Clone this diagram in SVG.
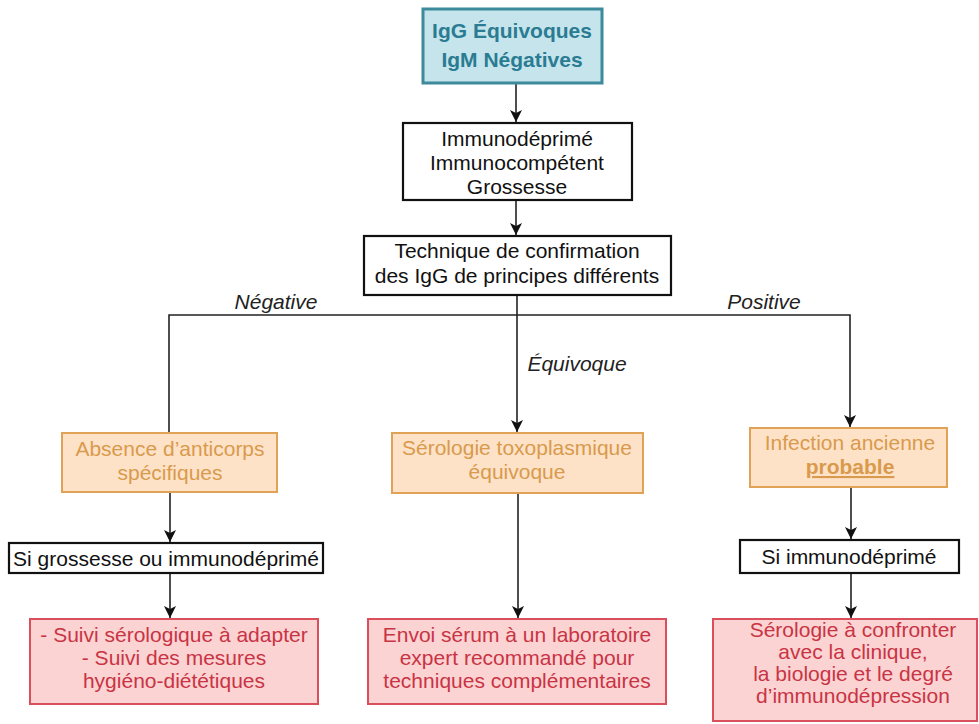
<svg xmlns="http://www.w3.org/2000/svg" width="979" height="724" viewBox="0 0 979 724">
<defs>
<marker id="ah" viewBox="0 0 12 18" refX="12" refY="9" markerWidth="12" markerHeight="18" markerUnits="userSpaceOnUse" orient="auto">
<path d="M0,3 L12,9 L0,15 L3,9 Z" fill="#111"/>
</marker>
</defs>
<style>
text{font-family:"Liberation Sans",Arial,sans-serif;text-anchor:middle}
.teal rect{fill:#c6e4eb;stroke:#3c8a9b;stroke-width:3}
.teal text{fill:#2a7c93;font-weight:bold;font-size:21px}
.blk rect{fill:#fff;stroke:#111;stroke-width:2.2}
.blk text{fill:#111;font-size:21px}
.org rect{fill:#fde2c8;stroke:#e0a256;stroke-width:2}
.org text{fill:#d99a4c;font-size:21px}
.red rect{fill:#fbd3d2;stroke:#d9505c;stroke-width:2}
.red text{fill:#c93445;font-size:21px}
.lbl{fill:#222;font-size:21px;font-style:italic}
.c path{fill:none;stroke:#222;stroke-width:1.6}
</style>
<rect width="979" height="724" fill="#fff"/>
<g id="connectors" class="c">
<path d="M516,83 V122" marker-end="url(#ah)"/>
<path d="M516,200 V235" marker-end="url(#ah)"/>
<path d="M517,295 V432" marker-end="url(#ah)"/>
<path d="M169,432 V315 H850 V427" marker-end="url(#ah)"/>
<path d="M170,492 V542" marker-end="url(#ah)"/>
<path d="M170,573 V618" marker-end="url(#ah)"/>
<path d="M518,493 V618" marker-end="url(#ah)"/>
<path d="M851,487 V539" marker-end="url(#ah)"/>
<path d="M851,573 V618" marker-end="url(#ah)"/>
</g>
<g id="labels">
<text class="lbl" x="276" y="309">Négative</text>
<text class="lbl" x="577" y="371">Équivoque</text>
<text class="lbl" x="764" y="309">Positive</text>
</g>
<g id="n1" class="teal">
<rect x="423" y="9" width="179" height="74"/>
<text x="512" y="38">IgG Équivoques</text>
<text x="512" y="67">IgM Négatives</text>
</g>
<g id="n2" class="blk">
<rect x="403" y="123" width="229" height="77"/>
<text x="517" y="146">Immunodéprimé</text>
<text x="517" y="170">Immunocompétent</text>
<text x="517" y="194">Grossesse</text>
</g>
<g id="n3" class="blk">
<rect x="364" y="236" width="307" height="59"/>
<text x="517" y="258">Technique de confirmation</text>
<text x="517" y="283">des IgG de principes différents</text>
</g>
<g id="n4" class="org">
<rect x="62" y="433" width="215" height="59"/>
<text x="170" y="456">Absence d’anticorps</text>
<text x="170" y="480">spécifiques</text>
</g>
<g id="n5" class="org">
<rect x="392" y="433" width="251" height="60"/>
<text x="517" y="455">Sérologie toxoplasmique</text>
<text x="517" y="479">équivoque</text>
</g>
<g id="n6" class="org">
<rect x="750" y="428" width="197" height="59"/>
<text x="850" y="450">Infection ancienne</text>
<text x="850" y="474" font-weight="bold" text-decoration="underline">probable</text>
</g>
<g id="n7" class="blk">
<rect x="9" y="543" width="314" height="30"/>
<text x="166" y="566">Si grossesse ou immunodéprimé</text>
</g>
<g id="n8" class="blk">
<rect x="740" y="540" width="219" height="33"/>
<text x="849" y="564">Si immunodéprimé</text>
</g>
<g id="n9" class="red">
<rect x="30" y="619" width="288" height="85"/>
<text x="174" y="642">- Suivi sérologique à adapter</text>
<text x="174" y="665">- Suivi des mesures</text>
<text x="174" y="688">hygiéno-diététiques</text>
</g>
<g id="n10" class="red">
<rect x="368" y="619" width="298" height="85"/>
<text x="517" y="642">Envoi sérum à un laboratoire</text>
<text x="517" y="665">expert recommandé pour</text>
<text x="517" y="688">techniques complémentaires</text>
</g>
<g id="n11" class="red">
<rect x="713" y="619" width="264" height="102"/>
<text x="853" y="637" font-size="20.5">Sérologie à confronter</text>
<text x="853" y="659" font-size="20.5">avec la clinique,</text>
<text x="853" y="681" font-size="20.5">la biologie et le degré</text>
<text x="853" y="703" font-size="20.5">d’immunodépression</text>
</g>
</svg>
